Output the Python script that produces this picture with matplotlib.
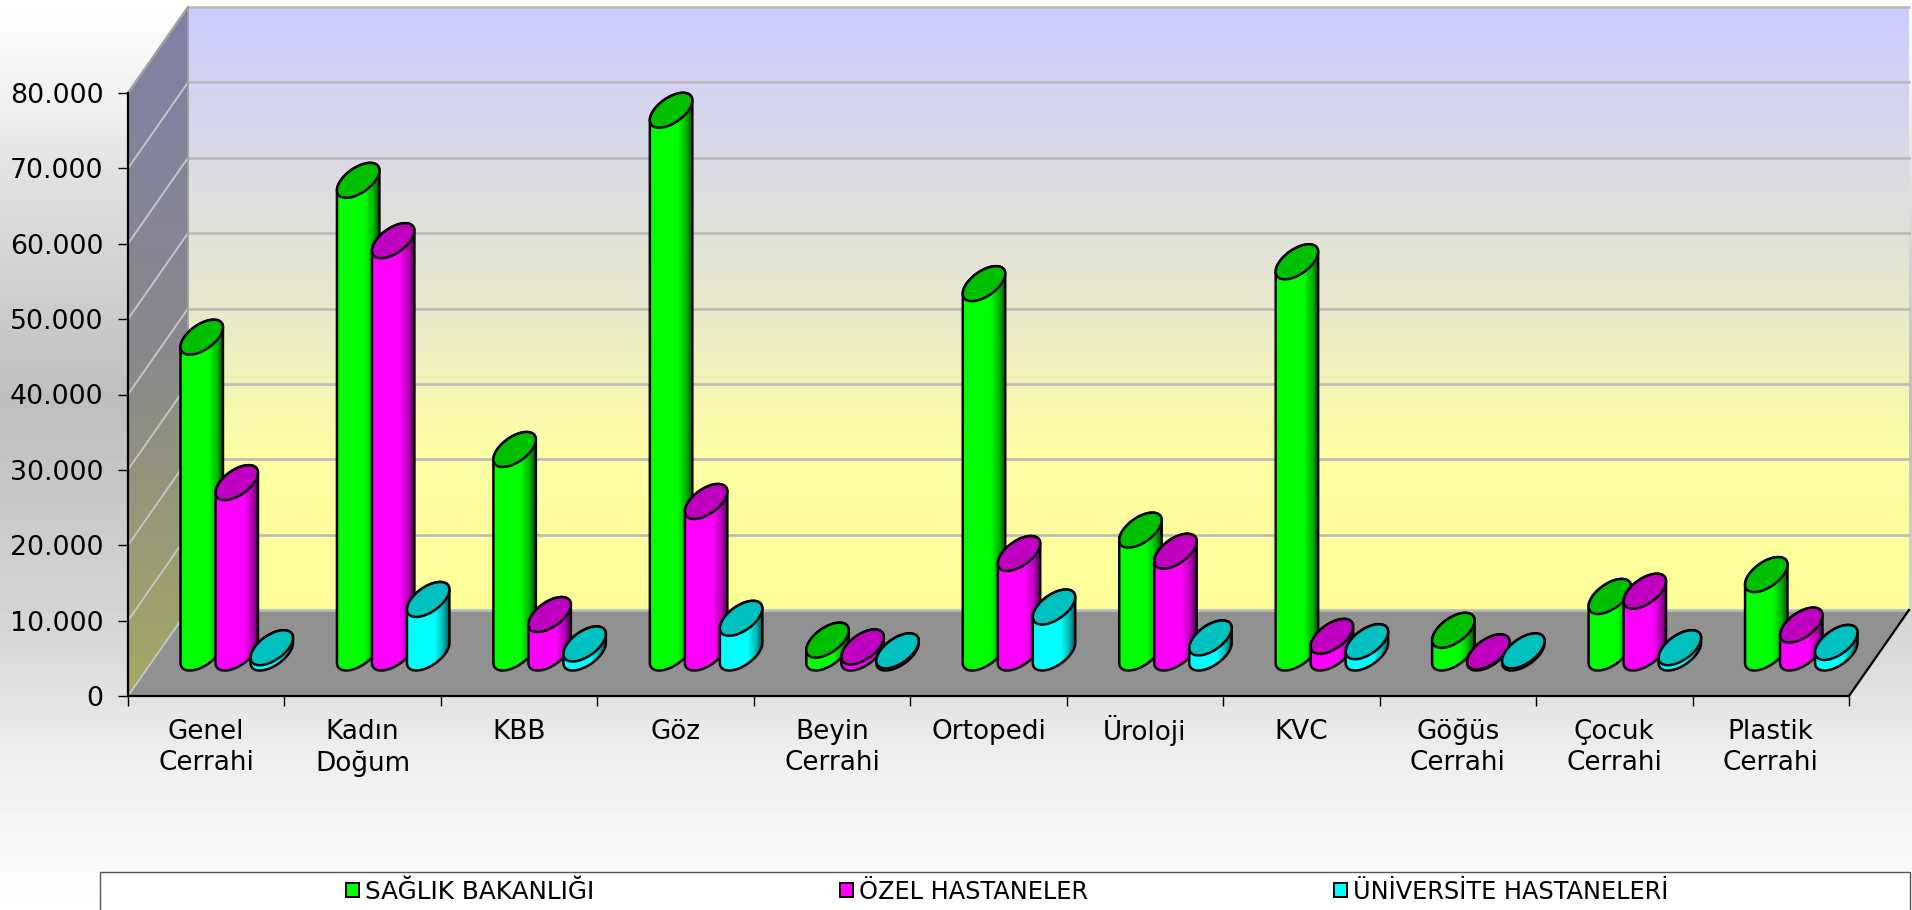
import numpy as np
import matplotlib
matplotlib.use("Agg")
import matplotlib.pyplot as plt
from matplotlib.path import Path
from matplotlib.patches import PathPatch, Polygon, Rectangle, Patch
from matplotlib.colors import to_rgb

categories = ["Genel\nCerrahi", "Kadın\nDoğum", "KBB", "Göz", "Beyin\nCerrahi", "Ortopedi",
              "Üroloji", "KVC", "Göğüs\nCerrahi", "Çocuk\nCerrahi", "Plastik\nCerrahi"]
saglik = [41900, 62700, 27000, 72000, 1700, 49000, 16300, 51900, 3000, 7500, 10400]
ozel = [22600, 54700, 5100, 20100, 800, 13200, 13500, 2200, 150, 8200, 3700]
universite = [700, 7100, 1200, 4600, 280, 6100, 2000, 1500, 280, 700, 1400]
series_names = ["SAĞLIK BAKANLIĞI", "ÖZEL HASTANELER", "ÜNİVERSİTE HASTANELERİ"]
series_values = [saglik, ozel, universite]
series_colors = ["#00ff00", "#ff00ff", "#00ffff"]
top_colors = ["#00c000", "#c000c0", "#00c0c0"]
yticks = [0, 10000, 20000, 30000, 40000, 50000, 60000, 70000, 80000]
ytick_labels = ["0", "10.000", "20.000", "30.000", "40.000", "50.000", "60.000", "70.000", "80.000"]

W, H = 1912, 910
plt.rcParams["font.family"] = ["DejaVu Sans"]
fig = plt.figure(figsize=(W / 100, H / 100), dpi=100)

# figure background gradient
bg = fig.add_axes([0, 0, 1, 1], zorder=-5)
stops_y = np.array([0, 100, 174, 400, 640, 755, 870, 910]) / H
stops_v = np.array([255, 240, 225, 190, 215, 238, 250, 255]) / 255
yy = np.linspace(0, 1, 455)
bg.imshow(np.interp(yy, stops_y, stops_v)[:, None], cmap="gray", vmin=0, vmax=1, aspect="auto", extent=[0, 1, 1, 0])
bg.axis("off")

# plot axes: front plane of the 3-D box
L, R, T, B = 128, 1849, 93, 696
ax = fig.add_axes([L / W, 1 - B / H, (R - L) / W, (B - T) / H], facecolor="none")
n = len(categories)
DX, DY = n / (R - L), 80000 / (B - T)   # data units per pixel
DEPTH_X, DEPTH_Y = 60 * DX, 86 * DY


def vgrad(stops):
    ys = np.array([s[0] for s in stops], float)
    cols = np.array([s[1] for s in stops], float) / 255
    v = np.linspace(ys[0], ys[-1], 300)
    return np.dstack([np.interp(v, ys, cols[:, k]) for k in range(3)]).reshape(300, 1, 3)


def clipped_image(img, extent, clip, z):
    im = ax.imshow(img, extent=extent, aspect="auto", origin="upper", zorder=z, interpolation="bilinear")
    im.set_clip_path(clip)
    im.set_clip_box(fig.bbox)
    return im


ymax = 80000
xr = n + DEPTH_X
back = Polygon([(DEPTH_X, DEPTH_Y), (xr, DEPTH_Y), (xr, ymax + DEPTH_Y), (DEPTH_X, ymax + DEPTH_Y)],
               transform=ax.transData, fc="none", ec="none")
ax.add_patch(back)
clipped_image(vgrad([(0, (204, 204, 255)), (300, (232, 232, 205)), (440, (253, 253, 165)), (604, (255, 255, 153))]),
              [DEPTH_X, xr, DEPTH_Y, ymax + DEPTH_Y], back, 0.1)
left = Polygon([(0, 0), (DEPTH_X, DEPTH_Y), (DEPTH_X, ymax + DEPTH_Y), (0, ymax)],
               transform=ax.transData, fc="none", ec="none")
ax.add_patch(left)
clipped_image(vgrad([(0, (128, 128, 165)), (300, (136, 136, 140)), (604, (168, 168, 100))]),
              [0, DEPTH_X, 0, ymax + DEPTH_Y], left, 0.2)
ax.add_patch(Polygon([(0, 0), (DEPTH_X, DEPTH_Y), (xr, DEPTH_Y), (n, 0)], fc="#919191", ec="none", zorder=0.3, clip_on=False))

GRID = "#bababa"
for v in yticks:
    ax.plot([DEPTH_X, xr], [v + DEPTH_Y] * 2, color=GRID, lw=1.9, zorder=0.4, clip_on=False)
    ax.plot([0, DEPTH_X], [v, v + DEPTH_Y], color="#c8c8c8", lw=1.3, zorder=0.4, clip_on=False)
ax.plot([DEPTH_X, DEPTH_X], [DEPTH_Y, ymax + DEPTH_Y], color="#a0a0a0", lw=1.3, zorder=0.4, clip_on=False)
ax.plot([0, DEPTH_X], [ymax, ymax + DEPTH_Y], color="#a0a0a0", lw=1.6, zorder=0.4, clip_on=False)
ax.plot([n, xr], [0, DEPTH_Y], color="black", lw=1.6, zorder=0.5, clip_on=False)

# cylinders
BW, BDX, BDY = 35, 24, 35   # pixel sizes of the bar footprint
SLOT = [-35, 0, 35]
tmax = np.arctan2(BDX, BW)
OUT = 1.8


def ell(cx, cy, t):
    return np.column_stack([cx + (BW / 2 * np.cos(t) + BDX / 2 * np.sin(t)) * DX,
                            cy + BDY / 2 * np.sin(t) * DY])


shade = np.interp(np.linspace(0, 1, 200), [0, .65, .85, 1], [1, 1, .7, .3])
z = 1.0
for i in range(n):
    for s in range(3):
        v = series_values[s][i]
        cx = i + 0.5 + (SLOT[s] + 30.5) * DX
        cy0 = DEPTH_Y / 2
        cy1 = v + DEPTH_Y / 2
        arc = np.linspace(tmax + np.pi, tmax + 2 * np.pi, 60)
        lower = ell(cx, cy0, arc)                      # lower arc of base, left to right
        full = ell(cx, cy1, np.linspace(tmax, tmax + np.pi, 60))  # upper arc of top, right to left
        verts = np.vstack([full, lower, full[:1]])
        side = PathPatch(Path(verts), fc="none", ec="none", zorder=z, clip_on=False)
        ax.add_patch(side)
        rgb = np.array(to_rgb(series_colors[s]))
        img = (shade[:, None] * rgb)[None, :, :]
        x0 = verts[:, 0].min()
        x1 = verts[:, 0].max()
        clipped_image(img, [x0, x1, cy0 - BDY * DY, cy1 + BDY * DY], side, z + 0.01)
        ax.add_patch(PathPatch(Path(verts), fc="none", ec="black", lw=OUT, zorder=z + 0.02, clip_on=False))
        ax.add_patch(Polygon(ell(cx, cy1, np.linspace(0, 2 * np.pi, 90)), closed=True,
                             fc=top_colors[s], ec="black", lw=OUT, zorder=z + 0.03, clip_on=False))
        z += 0.1

# axis furniture
ax.set_xlim(0, n)
ax.set_ylim(0, ymax)
for sp in ("top", "right"):
    ax.spines[sp].set_visible(False)
for sp in ("left", "bottom"):
    ax.spines[sp].set_linewidth(1.6)
    ax.spines[sp].set_zorder(50)
ax.set_yticks(yticks, ytick_labels, fontsize=19.3)
ax.tick_params(axis="y", length=7, width=1, pad=10.5)
ax.set_xticks(np.arange(n + 1))
ax.set_xticklabels([])
ax.set_xticks(np.arange(n) + 0.5, categories, minor=True, fontsize=18.9, linespacing=1.25)
ax.tick_params(axis="x", which="major", length=7, width=1)
ax.tick_params(axis="x", which="minor", length=0, pad=16.5)
ax.xaxis.get_minor_ticks()[categories.index("Üroloji")].set_pad(13.9)

# legend (frame runs past the bottom edge)
fig.add_artist(Rectangle((100 / W, -0.01), 1810 / W, 1 - 872 / H + 0.01, transform=fig.transFigure,
                         fc="white", ec="#555555", lw=1))
LF = 17.8
lpx = LF * 100 / 72
handles = [Patch(fc=c, ec="black", lw=1.4) for c in series_colors]
leg = fig.legend(handles, series_names, ncol=3, frameon=False, loc="center left",
                 bbox_to_anchor=(346 / W, 1 - 892 / H), borderaxespad=0, borderpad=0, fontsize=LF,
                 handlelength=13 / lpx, handleheight=13 / lpx, handletextpad=6 / lpx, columnspacing=246 / lpx)
for t, fs in zip(leg.get_texts(), [17.8, 17.25, 17.25]):
    t.set_fontsize(fs)

fig.savefig("out.png", dpi=100)
